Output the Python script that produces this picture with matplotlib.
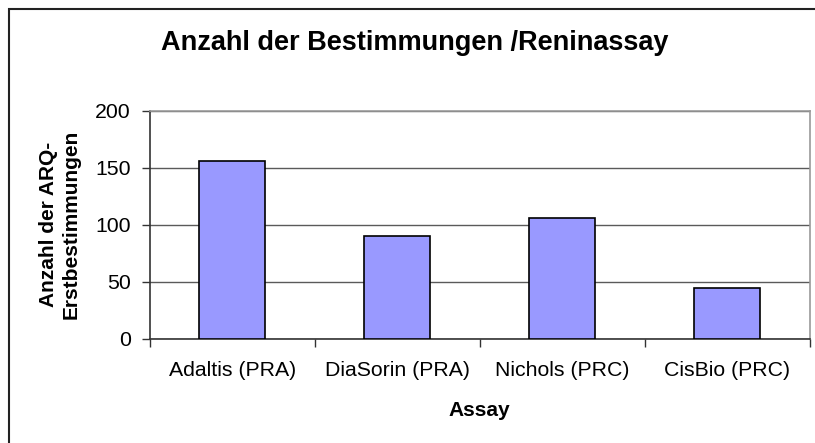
"""
Bar chart: Anzahl der Bestimmungen je Reninassay.
"""

import matplotlib
matplotlib.use("Agg")
import matplotlib.pyplot as plt
from matplotlib.patches import Rectangle

# Data
assays = ["Adaltis (PRA)", "DiaSorin (PRA)", "Nichols (PRC)", "CisBio (PRC)"]
counts = [156, 90, 106, 44]
yticks = [0, 50, 100, 150, 200]

TITLE = "Anzahl der Bestimmungen /Reninassay"
XLABEL = "Assay"
YLABEL = "Anzahl der ARQ-\nErstbestimmungen"

W, H, DPI = 815, 443, 100
BAR_COLOR = "#9999FF"
TICK_FS = 15.3

plt.rcParams["font.family"] = ["Liberation Sans", "DejaVu Sans"]

fig = plt.figure(figsize=(W / DPI, H / DPI), dpi=DPI)
fig.patch.set_facecolor("white")

# axes placed in pixel units, converted to figure fractions
left, right, top, bottom = 150, 809.5, 110.7, 338.5
ax = fig.add_axes([left / W, 1 - bottom / H, (right - left) / W, (bottom - top) / H])

x = range(len(assays))
ax.bar(x, counts, width=0.4, color=BAR_COLOR, edgecolor="black", linewidth=1.2, zorder=3)

ax.set_xlim(-0.5, len(assays) - 0.5)
ax.set_ylim(0, 200)
ax.set_yticks(yticks)
ax.grid(axis="y", color="#5a5a5a", linewidth=1.0, zorder=0)

# category ticks sit between categories, labels at the centres
ax.set_xticks([i - 0.5 for i in range(len(assays) + 1)])
ax.set_xticklabels([])
ax.set_xticks(list(x), minor=True)
ax.set_xticklabels(assays, minor=True, fontsize=TICK_FS)
ax.tick_params(axis="x", which="major", direction="out", length=6, width=1, color="#333333")
ax.tick_params(axis="x", which="minor", length=0, pad=16)
ax.tick_params(axis="y", direction="out", length=6, width=1, color="#333333",
               labelsize=TICK_FS, pad=8)

for side in ["top", "right"]:
    ax.spines[side].set_color("#999999")
    ax.spines[side].set_linewidth(1.2)
for side in ["left", "bottom"]:
    ax.spines[side].set_color("#333333")
    ax.spines[side].set_linewidth(1.2)

fig.text(415 / W, 1 - 49.5 / H, TITLE, fontsize=19.5, fontweight="bold",
         ha="center", va="baseline")
fig.text(479 / W, 1 - 416 / H, XLABEL, fontsize=15, fontweight="bold",
         ha="center", va="baseline")
fig.text(60 / W, 1 - 224 / H, YLABEL, fontsize=15, fontweight="bold",
         ha="center", va="center", rotation=90, linespacing=1.2, multialignment="center")

# outer chart frame (runs off the right and bottom edges)
frame = Rectangle((8.5 / W, -0.2), 1.3, 1.2 - 9 / H, transform=fig.transFigure,
                  fill=False, edgecolor="#222222", linewidth=1.5)
fig.patches.append(frame)

fig.savefig("out.png", dpi=DPI)
